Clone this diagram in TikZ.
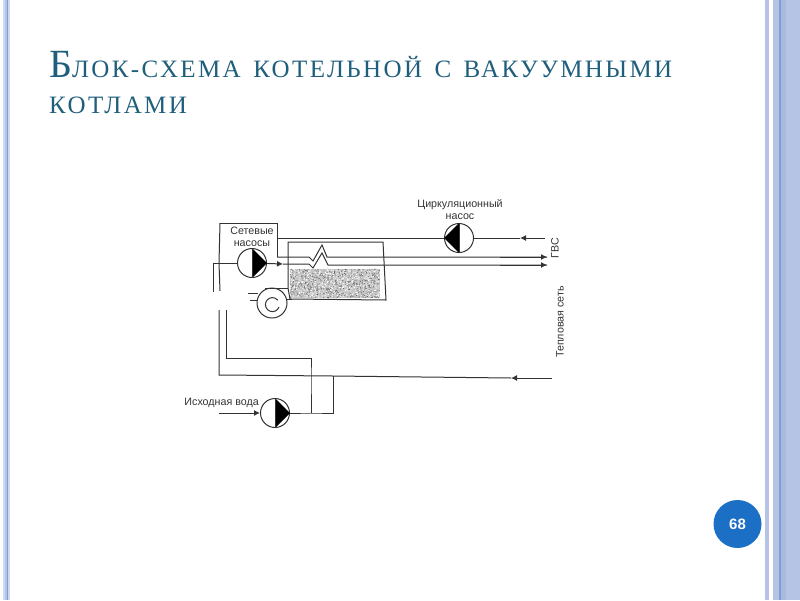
\documentclass[tikz,border=0pt]{standalone}
\usepackage{fontspec}
\setmainfont{Liberation Serif}
\setsansfont{Liberation Sans}
\usepackage{tikz}
\usetikzlibrary{arrows.meta,positioning,calc}
\definecolor{band}{HTML}{B5C3E4}
\definecolor{bandpale}{HTML}{CFD8EE}
\definecolor{bandmid}{HTML}{A9BADF}
\definecolor{bandline}{HTML}{7F9FD6}
\definecolor{teal}{HTML}{1F5F7C}
\definecolor{badge}{HTML}{1B6FC4}
\definecolor{ink}{HTML}{333333}
\newfontfamily\titlefont[LetterSpace=9.5,WordSpace=1.45]{Liberation Serif}
\tikzset{pipe/.style={draw=ink,line width=1pt},
tip/.style={pipe,-{Latex[length=6pt,width=6pt]}},
pump/.style={circle,draw=ink,fill=white,line width=1pt,minimum size=29pt,inner sep=0pt},
lab/.style={font=\sffamily\fontsize{10.7}{12.6}\selectfont,text=ink,align=center,inner sep=0pt},
headline/.style={anchor=base west,text=teal,inner sep=0pt}}
\begin{document}
\begin{tikzpicture}[x=1pt,y=-1pt]
\useasboundingbox (0,0) rectangle (800,600);
% frame
\fill[bandpale] (3,0) rectangle (10,600);
\fill[band] (5,0) rectangle (7,600);
\fill[bandline] (7,0) rectangle (8,600);
\fill[band] (765,0) rectangle (769,600);
\fill[band] (773,0) rectangle (800,600);
\fill[bandline] (779,0) rectangle (781,600);
\fill[bandmid] (781,0) rectangle (786,600);
% title
\node[headline] (title1) at (49,77) {\titlefont\fontsize{40}{40}\selectfont Б\fontsize{25}{25}\selectfont ЛОК-СХЕМА КОТЕЛЬНОЙ С ВАКУУМНЫМИ};
\node[headline] (title2) at (49,113) {\titlefont\fontsize{25}{25}\selectfont КОТЛАМИ};
% boiler
\fill[gray!45] (290,269) rectangle (380,298);
\pgfmathsetseed{11}
\foreach \i in {1,...,650}
  \fill[black!65] ({290+90*rnd},{269+29*rnd}) circle (.45);
\foreach \i in {1,...,450}
  \fill[white] ({290+90*rnd},{269+29*rnd}) circle (.6);
\draw[pipe] (288,242) -- (383,242) -- (386,300) -- (290,299) -- (288,288) -- cycle;
% pumps
\node[pump] (netpump) at (252,263) {};
\node[pump] (circpump) at (459,238) {};
\node[pump] (feedpump) at (275,413) {};
\fill[black] (netpump.north) -- (netpump.east) -- (netpump.south) -- cycle;
\fill[black] (circpump.north) -- (circpump.west) -- (circpump.south) -- cycle;
\fill[black] (feedpump.north) -- (feedpump.east) -- (feedpump.south) -- cycle;
\draw[pipe] (netpump.north) -- (netpump.south);
\draw[pipe] (circpump.north) -- (circpump.south);
\draw[pipe] (feedpump.north) -- (feedpump.south);
% points on the pipes
\coordinate (frameleft) at (220,223);
\coordinate (frameright) at (277,223);
\coordinate (branch) at (277,238);
\coordinate (coilin) at (277,257);
\coordinate (join) at (219,263);
\coordinate (outer) at (213,263);
\coordinate (gvsin) at (545,238);
\coordinate (gvstip) at (520,238);
\coordinate (upout) at (547,257);
\coordinate (lowout) at (547,265);
\coordinate (netin) at (552,378);
\coordinate (nettip) at (511,378);
\coordinate (corner) at (219,375);
\coordinate (inner) at (226,358);
\coordinate (drop) at (311,358);
\coordinate (meet) at (311,376);
\coordinate (feedjoin) at (311,413);
\coordinate (feedend) at (333,413);
\coordinate (riser) at (333,376);
\coordinate (feedin) at (219,413);
\coordinate (netout) at (283,264);
% network pump and frame
\draw[pipe] (outer) -- (netpump);
\draw[pipe] (outer) -- (213,292);
\draw[pipe] (frameleft) -- (join) -- (220,291);
\draw[pipe] (frameleft) -- (frameright) -- (coilin);
\draw[tip] (netpump) -- (netout);
% coil
\draw[pipe] (coilin) -- (309,257) -- (313,261) -- (322,245) -- (327,257) -- (upout);
\draw[pipe] (netout) -- (309,264) -- (313,268) -- (322,253) -- (328,265) -- (lowout);
\draw[tip] (500,257) -- (upout);
\draw[tip] (500,265) -- (lowout);
% hot water loop
\draw[pipe] (branch) -- (circpump);
\draw[tip] (gvsin) -- (gvstip);
\draw[pipe] (gvstip) -- (circpump);
% return main
\draw[pipe] (219,310) -- (corner) -- (riser);
\draw[tip] (netin) -- (nettip);
\draw[pipe] (nettip) -- (riser);
\draw[pipe] (226,310) -- (inner) -- (drop) -- (meet) -- (feedjoin);
\draw[pipe] (riser) -- (feedend) -- (feedjoin) -- (feedpump);
% make-up water
\draw[tip] (feedin) -- (feedpump);
% fan
\draw[pipe] (272,303) circle (15);
\draw[pipe] (279,307) arc (20:320:7);
\draw[pipe] (265,288) -- (288,288);
\draw[pipe] (248,293) -- (258,293);
\draw[pipe] (250,300) -- (257,300);
\draw[pipe] (287,299) -- (292,299);
% labels
\node[lab] (netlabel) at (252,237) {Сетевые\\насосы};
\node[lab] (circlabel) at (460,209.5) {Циркуляционный\\насос};
\node[lab,anchor=south east] (feedlabel) at (259,408) {Исходная вода};
\node[lab,rotate=90] (gvslabel) at (555,248) {ГВС};
\node[lab,rotate=90] (heatlabel) at (560,322) {Тепловая сеть};
% page number
\node[circle,fill=badge,minimum size=48pt,inner sep=0pt,text=white,font=\sffamily\bfseries\fontsize{15}{15}\selectfont] (pagenum) at (737.5,524) {68};
\end{tikzpicture}
\end{document}
